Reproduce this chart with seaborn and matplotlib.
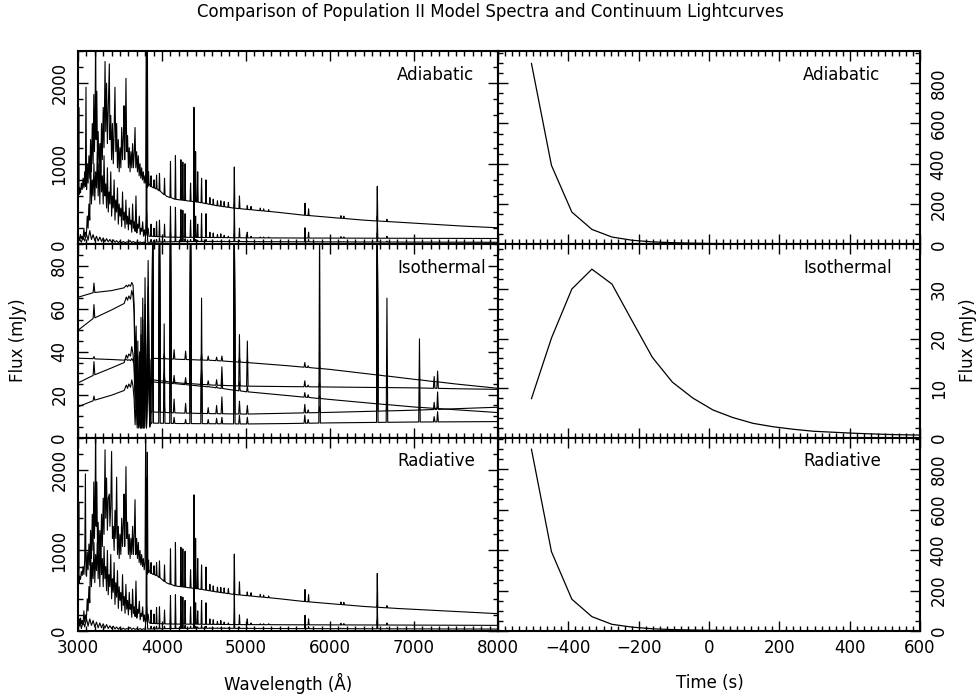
import numpy as np
import pandas as pd
import matplotlib
matplotlib.use("Agg")
import matplotlib.pyplot as plt
from matplotlib.ticker import MultipleLocator, FixedLocator
import seaborn as sns

# ---------------- spectra: adiabatic / radiative (mJy) ----------------
# blue "forest" below ~3850 A, read as zig-zag vertices
hot_forest1_wl = [3000, 3003, 3006, 3009, 3012, 3020, 3030, 3040, 3050, 3060,
                  3070, 3080, 3088, 3095, 3102, 3110, 3120, 3130, 3140, 3150,
                  3160, 3170, 3180, 3188, 3196, 3204, 3210, 3216, 3224, 3232,
                  3240, 3250, 3260, 3270, 3280, 3290, 3300, 3310, 3322, 3330,
                  3340, 3350, 3360, 3373, 3380, 3390, 3400, 3410, 3420, 3430,
                  3440, 3450, 3460, 3470, 3480, 3490, 3500, 3510, 3520, 3530,
                  3540, 3548, 3556, 3564, 3571, 3580, 3590, 3600, 3610, 3620,
                  3630, 3640, 3650, 3660, 3670, 3679, 3688, 3698, 3708, 3718,
                  3728, 3738, 3748, 3758, 3768, 3778, 3788, 3798, 3806, 3814,
                  3820, 3826, 3832, 3840, 3845]
hot_forest2_wl = [3000, 3010, 3020, 3030, 3040, 3050, 3060, 3070, 3080, 3090,
                  3100, 3110, 3120, 3130, 3140, 3150, 3160, 3170, 3180, 3190,
                  3200, 3210, 3220, 3230, 3240, 3250, 3260, 3270, 3280, 3290,
                  3300, 3310, 3320, 3330, 3340, 3350, 3360, 3370, 3380, 3390,
                  3400, 3410, 3420, 3430, 3440, 3450, 3460, 3470, 3480, 3490,
                  3500, 3510, 3520, 3530, 3540, 3550, 3560, 3570, 3580, 3590,
                  3600, 3610, 3620, 3630, 3640, 3650, 3660, 3670, 3680, 3690,
                  3700, 3710, 3720, 3730, 3740, 3750, 3760, 3770, 3780, 3790,
                  3800, 3810, 3815, 3822, 3835, 3845]
hot_forest3_wl = [3000, 3020, 3040, 3060, 3080, 3100, 3120, 3140, 3160, 3180,
                  3200, 3220, 3240, 3260, 3280, 3300, 3320, 3340, 3360, 3380,
                  3400, 3420, 3440, 3460, 3480, 3500, 3520, 3540, 3560, 3580,
                  3600, 3620, 3640, 3660, 3680, 3700, 3720, 3740, 3760, 3780,
                  3800, 3818, 3830, 3845]
# continuum anchors and emission line positions redward of the forest
hot_cont_wl = [3860, 3950, 4050, 4150, 4300, 4450, 4650, 4850, 5100, 5400, 5650, 6000, 6400, 6800, 7200, 7600, 8000]
hot_line_wl = [3870, 3905, 3935, 3970, 4030, 4101, 4160, 4225, 4248, 4275, 4340, 4381, 4400, 4425, 4471, 4524,
               4570, 4610, 4660, 4700, 4740, 4790, 4861, 4922, 5015, 5060, 5170, 5210, 5270, 5702, 5745,
               6130, 6165, 6563, 6678]

adi1_forest_f = [1100, 1900, 800, 1700, 620, 700, 640, 760, 680, 820,
                 700, 900, 720, 1950, 680, 1000, 760, 1100, 820, 1300,
                 900, 1500, 1000, 1860, 1150, 1700, 2600, 1300, 1900, 1050,
                 1400, 950, 1250, 900, 1500, 1050, 1700, 1200, 2270, 1400,
                 2000, 1250, 1700, 2240, 1300, 1600, 1050, 1500, 1000, 1400,
                 1950, 1150, 1500, 950, 1300, 900, 1200, 950, 1450, 1050,
                 1350, 1720, 1050, 1400, 2060, 1150, 1350, 950, 1200, 900,
                 1150, 950, 1250, 950, 1150, 1450, 950, 1150, 900, 1100,
                 850, 1000, 820, 950, 800, 900, 760, 850, 760, 2600,
                 700, 2600, 720, 900, 760]
adi1_cont = [720, 680, 600, 560, 540, 520, 480, 450, 425, 395, 365, 335, 300, 275, 250, 225, 205]
adi1_peak = [850, 800, 860, 880, 820, 1030, 1100, 1050, 1020, 1000, 760, 1700, 1150, 900, 820, 800,
             580, 560, 540, 540, 530, 520, 960, 600, 480, 470, 450, 440, 430, 510, 440,
             355, 350, 720, 310]

adi2_forest_f = [60, 90, 50, 120, 70, 100, 60, 200, 90, 150,
                 120, 350, 200, 500, 300, 1100, 500, 800, 600, 1000,
                 550, 900, 700, 1150, 600, 1000, 500, 1250, 650, 850,
                 500, 1100, 600, 750, 450, 950, 400, 650, 500, 900,
                 350, 600, 450, 800, 300, 550, 400, 700, 250, 500,
                 350, 450, 220, 650, 300, 400, 200, 550, 250, 350,
                 180, 450, 250, 300, 150, 500, 200, 280, 160, 600,
                 140, 250, 200, 350, 120, 200, 160, 280, 100, 180,
                 100, 150, 2600, 110, 200, 100]
adi2_cont = [100, 95, 90, 88, 86, 85, 84, 82, 80, 79, 78, 77, 76, 75, 74, 73, 72]
adi2_peak = [250, 200, 280, 300, 250, 470, 460, 430, 420, 380, 300, 600, 350, 250, 380, 380,
             150, 140, 120, 130, 110, 100, 500, 200, 150, 100, 90, 90, 90, 205, 150,
             95, 92, 350, 100]

adi3_forest_f = [30, 60, 25, 90, 40, 130, 50, 170, 60, 120,
                 45, 100, 40, 90, 35, 80, 30, 70, 30, 60,
                 25, 55, 25, 45, 20, 40, 20, 35, 20, 30,
                 25, 45, 20, 35, 20, 30, 20, 30, 18, 28,
                 20, 400, 25, 25]
adi3_cont = [25, 28, 30, 32, 34, 35, 35, 34, 33, 32, 31, 30, 29, 28, 27, 26, 25]
adi3_peak = [60, 50, 60, 80, 60, 150, 110, 90, 80, 70, 60, 180, 60, 50, 70, 60,
             40, 40, 40, 40, 40, 40, 130, 50, 40, 35, 30, 30, 30, 90, 60,
             35, 35, 140, 40]

rad1_forest_f = [900, 1950, 750, 1600, 600, 680, 640, 740, 690, 800,
                 700, 880, 1950, 700, 680, 980, 760, 1080, 820, 1250,
                 900, 1450, 1000, 1850, 1150, 1650, 2600, 1300, 1850, 1050,
                 1350, 950, 1250, 920, 1450, 1050, 1650, 1200, 2250, 1400,
                 1900, 1250, 1650, 1700, 1300, 1550, 2230, 1150, 1300, 1000,
                 1500, 1150, 1910, 950, 1300, 900, 1200, 950, 1400, 1050,
                 1350, 1700, 1050, 1400, 2040, 1150, 1350, 950, 1200, 900,
                 1150, 950, 1300, 950, 1200, 1630, 950, 1150, 900, 1100,
                 850, 1000, 820, 950, 800, 900, 760, 850, 2600, 760,
                 700, 2220, 720, 880, 760]
rad1_cont = [720, 680, 600, 560, 540, 520, 485, 455, 430, 400, 370, 340, 305, 280, 258, 235, 215]
rad1_peak = [850, 810, 850, 870, 820, 1020, 1100, 1040, 1020, 990, 760, 1690, 1150, 900, 820, 795,
             580, 560, 545, 540, 535, 525, 955, 610, 485, 475, 455, 445, 435, 515, 450,
             360, 355, 715, 315]

rad2_forest_f = [80, 120, 60, 160, 90, 130, 80, 250, 110, 200,
                 150, 400, 250, 550, 350, 1050, 550, 850, 650, 1100,
                 600, 950, 750, 1100, 650, 1050, 550, 1200, 700, 900,
                 550, 1050, 650, 800, 500, 1000, 450, 700, 550, 950,
                 400, 650, 480, 850, 330, 600, 420, 750, 280, 550,
                 380, 480, 250, 700, 320, 430, 220, 580, 270, 380,
                 200, 480, 270, 330, 170, 520, 220, 300, 180, 620,
                 160, 270, 220, 370, 140, 220, 180, 300, 120, 200,
                 110, 160, 1900, 120, 210, 110]
rad2_cont = [95, 90, 88, 86, 85, 84, 82, 80, 79, 78, 77, 76, 75, 74, 73, 72, 70]
rad2_peak = [260, 210, 290, 300, 260, 440, 450, 430, 420, 380, 300, 580, 350, 250, 380, 350,
             150, 140, 120, 130, 110, 100, 480, 200, 150, 100, 90, 90, 90, 195, 150,
             95, 92, 320, 100]

rad3_forest_f = [40, 150, 30, 120, 50, 160, 60, 150, 70, 130,
                 50, 110, 40, 100, 40, 90, 35, 80, 30, 65,
                 30, 60, 25, 50, 20, 45, 20, 35, 20, 30,
                 25, 45, 20, 35, 20, 30, 20, 30, 18, 28,
                 20, 300, 25, 25]
rad3_cont = [25, 27, 30, 31, 33, 34, 34, 33, 32, 31, 30, 29, 28, 27, 26, 25, 24]
rad3_peak = [60, 50, 60, 80, 60, 140, 110, 90, 80, 70, 60, 170, 60, 50, 70, 60,
             40, 40, 40, 40, 40, 40, 120, 50, 40, 35, 30, 30, 30, 85, 55,
             35, 35, 130, 40]

# ---------------- spectra: isothermal (mJy) ----------------
iso_forest_wl = [3000, 3180, 3190, 3200, 3400, 3550, 3575, 3590, 3605, 3625, 3640, 3655,
                 3668, 3680, 3692, 3705, 3712, 3722, 3734, 3742, 3750, 3760, 3771, 3785, 3798, 3815,
                 3835, 3855, 3868]
iso_cont_wl = [3875, 4200, 4600, 5000, 5500, 6000, 6500, 7000, 7500, 8000]
iso_line_wl = [3889, 3970, 4026, 4101, 4144, 4281, 4340, 4471, 4550, 4650, 4713, 4861, 4922, 5016,
               5700, 5740, 5876, 6563, 6678, 7065, 7240, 7281]

iso1_forest_f = [65.4, 67.5, 72, 67.6, 68.5, 69.8, 71, 70.2, 71.2, 70.5, 72.3, 71,
                 62, 35, 52, 15, 45, 9, 40, 6, 56, 5, 65, 5, 74.5, 5, 82.5, 6, 24]
iso1_cont = [26, 25, 23.5, 21.4, 19.6, 17.8, 16, 14.3, 13, 11.7]
iso1_peak = [100, 100, 28, 100, 27, 26, 100, 30, 24, 24, 27, 100, 26, 24,
             21, 20, 19.5, 100, 16.5, 14.3, 13.6, 14.5]

iso2_forest_f = [50, 55.5, 62, 55.8, 59.5, 62.5, 65.5, 64, 66, 64.5, 68.5, 66,
                 58, 28, 45, 10, 38, 6, 35, 5, 48, 4.5, 55, 4.5, 62, 5, 70, 6, 26]
iso2_cont = [27, 25.5, 24.5, 24, 23.8, 23.6, 23.4, 23.2, 22.8, 22.5]
iso2_peak = [100, 100, 30, 100, 29, 28, 100, 32, 26.5, 27, 33, 100, 48, 45,
             26.5, 24.5, 25.5, 100, 25.5, 23.5, 28.5, 31]

iso3_forest_f = [37, 36.8, 37.8, 36.7, 36.4, 36.1, 36.5, 36, 36.3, 35.9, 36.8, 35.8,
                 34, 22, 38, 12, 30, 8, 32, 6, 40, 6, 44, 6, 48, 6, 52, 8, 36]
iso3_cont = [37, 36.5, 36, 35, 33.5, 31.8, 29.5, 27.2, 25, 23]
iso3_peak = [100, 100, 39, 100, 41, 40.3, 100, 39, 38, 37.5, 38, 100, 37, 36,
             35, 33.5, 33, 100, 30, 27.5, 26.2, 26]

iso4_forest_f = [25.5, 29, 35.4, 29.3, 32.5, 35, 38.5, 37, 39, 38, 42.4, 39,
                 33, 14, 30, 6, 25, 5, 24, 4.5, 28, 4.5, 33, 4.5, 38, 4.5, 44, 5, 12]
iso4_cont = [12, 11.5, 11.2, 11, 11.4, 11.8, 12.3, 12.8, 13.5, 14.2]
iso4_peak = [100, 100, 17, 100, 18, 16, 100, 31, 14, 15, 19, 100, 17, 15,
             15.5, 13, 14.5, 100, 15, 13.5, 16.5, 21.3]

iso5_forest_f = [14.4, 17.2, 19.4, 17.5, 19.8, 22, 24.5, 23, 25, 23.5, 26.9, 24,
                 18, 6, 18, 4.5, 15, 4.5, 16, 4.5, 20, 4.5, 24, 4.5, 28, 4.5, 33, 5, 6.8]
iso5_cont = [6.8, 6.6, 6.5, 6.4, 6.6, 6.9, 7.1, 7.3, 7.4, 7.5]
iso5_peak = [100, 100, 53, 100, 9.5, 8.5, 100, 65, 8.5, 9, 9.5, 100, 10.5, 9.5,
             10.5, 8.5, 100, 100, 65, 46, 9.8, 12.1]

# ---------------- continuum lightcurves ----------------
lc_time = [-505, -448, -390, -333, -276, -218, -161, -104, -46, 11, 68, 125, 183, 240, 297, 354, 412, 469, 526, 584, 641]
lc_adiabatic = [899, 392, 160, 74, 36, 20, 12, 8, 5.5, 4, 3, 2.3, 1.8, 1.5, 1.2, 1, 0.9, 0.8, 0.7, 0.6, 0.55]
lc_isothermal = [7.85, 20.1, 30.0, 34.0, 31.0, 23.5, 16.2, 11.2, 8.0, 5.6, 4.06, 2.9, 2.2, 1.7, 1.3, 1.1, 0.9, 0.75, 0.62, 0.55, 0.5]
lc_radiative = [899, 392, 157, 71, 33, 19, 11, 7, 4.8, 3.4, 2.5, 1.9, 1.5, 1.2, 1, 0.85, 0.75, 0.65, 0.58, 0.52, 0.48]


def spectrum(forest_wl, forest_f, cont_wl, cont_f, line_wl, line_pk, hw):
    # continuum anchors with narrow emission spikes dropped onto them
    base = np.interp(line_wl, cont_wl, cont_f)
    wl = list(forest_wl) + list(cont_wl)
    fl = list(forest_f) + list(cont_f)
    for w, b, p in zip(line_wl, base, line_pk):
        wl += [w - hw, w, w + hw]
        fl += [b, p, b]
    df = pd.DataFrame({"wl": wl, "flux": fl})
    return df.sort_values("wl", kind="stable").reset_index(drop=True)


def frame(ax, xlim, ylim, xmaj, xmin, ymaj, ymin, side, bottom):
    ax.set_xlim(*xlim)
    ax.set_ylim(*ylim)
    ax.xaxis.set_major_locator(xmaj)
    ax.xaxis.set_minor_locator(MultipleLocator(xmin))
    ax.yaxis.set_major_locator(MultipleLocator(ymaj))
    ax.yaxis.set_minor_locator(MultipleLocator(ymin))
    ax.tick_params(which="both", direction="in", top=True, bottom=True, left=True, right=True,
                   width=1, colors="black", labelsize=12,
                   labelleft=(side == "left"), labelright=(side == "right"), labelbottom=bottom)
    ax.tick_params(which="major", length=7)
    ax.tick_params(which="minor", length=3.5)
    ax.tick_params(axis="y", labelrotation=90, pad=7)
    ax.tick_params(axis="x", pad=6)
    for t in ax.yaxis.get_major_ticks():
        t.label1.set_va("center")
        t.label2.set_va("center")
    ax.set_xlabel("")
    ax.set_ylabel("")
    for s in ax.spines.values():
        s.set_linewidth(1.5)
        s.set_color("black")


sns.set_theme(style="ticks")
plt.rcParams["font.family"] = ["DejaVu Sans"]
plt.rcParams.update({"text.color": "black", "axes.labelcolor": "black",
                     "xtick.color": "black", "ytick.color": "black",
                     "axes.facecolor": "white"})

fig = plt.figure(figsize=(9.8, 6.98), dpi=100)

x_left, x_right, w_left, w_right = 78 / 980, 498 / 980, 420 / 980, 422 / 980
h_row = 193.3 / 698
row_bottom = [1 - 244.3 / 698, 1 - 437.7 / 698, 1 - 631 / 698]

names = ["Adiabatic", "Isothermal", "Radiative"]
spectra = [
    [spectrum(hot_forest1_wl, adi1_forest_f, hot_cont_wl, adi1_cont, hot_line_wl, adi1_peak, 6),
     spectrum(hot_forest2_wl, adi2_forest_f, hot_cont_wl, adi2_cont, hot_line_wl, adi2_peak, 6),
     spectrum(hot_forest3_wl, adi3_forest_f, hot_cont_wl, adi3_cont, hot_line_wl, adi3_peak, 6)],
    [spectrum(iso_forest_wl, f, iso_cont_wl, c, iso_line_wl, p, 9)
     for f, c, p in [(iso1_forest_f, iso1_cont, iso1_peak), (iso2_forest_f, iso2_cont, iso2_peak),
                     (iso3_forest_f, iso3_cont, iso3_peak), (iso4_forest_f, iso4_cont, iso4_peak),
                     (iso5_forest_f, iso5_cont, iso5_peak)]],
    [spectrum(hot_forest1_wl, rad1_forest_f, hot_cont_wl, rad1_cont, hot_line_wl, rad1_peak, 6),
     spectrum(hot_forest2_wl, rad2_forest_f, hot_cont_wl, rad2_cont, hot_line_wl, rad2_peak, 6),
     spectrum(hot_forest3_wl, rad3_forest_f, hot_cont_wl, rad3_cont, hot_line_wl, rad3_peak, 6)],
]
curves = [lc_adiabatic, lc_isothermal, lc_radiative]
spec_ylim = [(0, 2400), (0, 90), (0, 2400)]
spec_ytick = [(1000, 200), (20, 5), (1000, 200)]
lc_ylim = [(0, 960), (0, 39), (0, 955)]
lc_ytick = [(200, 50), (10, 2), (200, 50)]

for i in range(3):
    axl = fig.add_axes([x_left, row_bottom[i], w_left, h_row])
    for df in spectra[i]:
        sns.lineplot(data=df, x="wl", y="flux", ax=axl, color="black", lw=0.8,
                     sort=False, estimator=None)
    frame(axl, (3000, 8000), spec_ylim[i], MultipleLocator(1000), 100,
          spec_ytick[i][0], spec_ytick[i][1], "left", i == 2)
    axl.text(0.76, 0.877, names[i], transform=axl.transAxes, ha="left", va="center", fontsize=12)

    axr = fig.add_axes([x_right, row_bottom[i], w_right, h_row])
    lc = pd.DataFrame({"time": lc_time, "flux": curves[i]})
    sns.lineplot(data=lc, x="time", y="flux", ax=axr, color="black", lw=0.9,
                 sort=False, estimator=None)
    frame(axr, (-600, 600), lc_ylim[i], FixedLocator([-600, -400, -200, 0, 200, 400, 600]), 20,
          lc_ytick[i][0], lc_ytick[i][1], "right", i == 2)
    if i == 2:
        axr.get_xticklabels()[0].set_visible(False)
    axr.text(0.723, 0.877, names[i], transform=axr.transAxes, ha="left", va="center", fontsize=12)

fig.text(0.5, 1 - 12 / 698, "Comparison of Population II Model Spectra and Continuum Lightcurves",
         ha="center", va="center", fontsize=12)
fig.text(18 / 980, 1 - 340 / 698, "Flux (mJy)", rotation=90, ha="center", va="center", fontsize=12)
fig.text(968 / 980, 1 - 340 / 698, "Flux (mJy)", rotation=90, ha="center", va="center", fontsize=12)
fig.text(288 / 980, 1 - 683 / 698, "Wavelength (Å)", ha="center", va="center", fontsize=12)
fig.text(710 / 980, 1 - 683 / 698, "Time (s)", ha="center", va="center", fontsize=12)

fig.savefig("out.png", dpi=100)
